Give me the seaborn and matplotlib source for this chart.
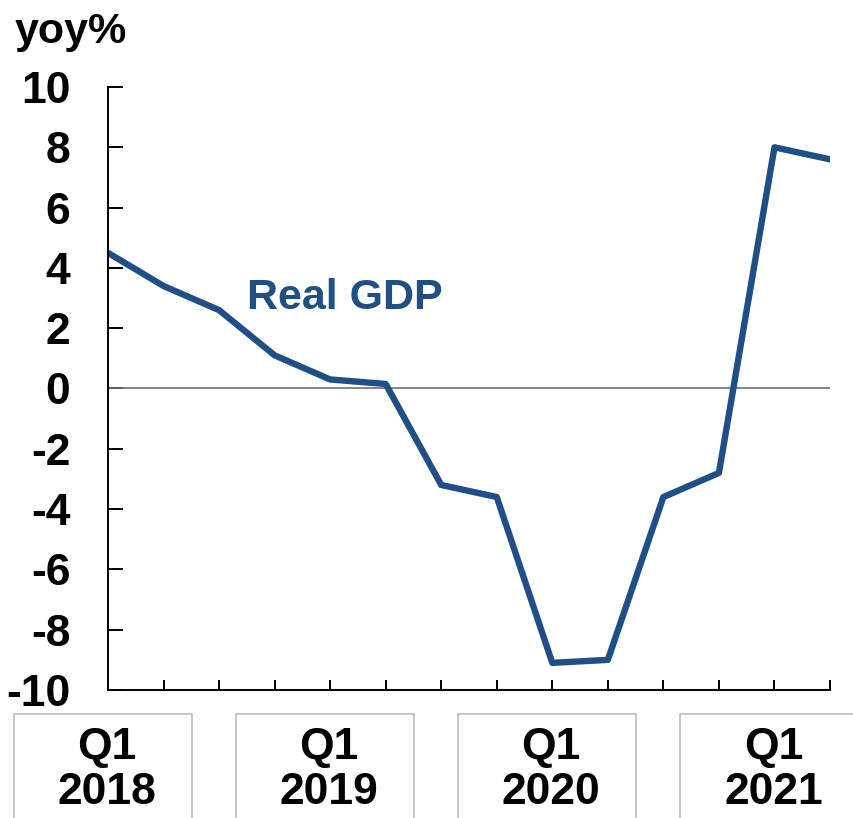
import numpy as np
import pandas as pd
import matplotlib
matplotlib.use("Agg")
import matplotlib.pyplot as plt
from matplotlib.patches import Rectangle
import seaborn as sns

# --- data (yoy %, quarterly) ---
quarters = ["2018Q1", "2018Q2", "2018Q3", "2018Q4",
            "2019Q1", "2019Q2", "2019Q3", "2019Q4",
            "2020Q1", "2020Q2", "2020Q3", "2020Q4",
            "2021Q1", "2021Q2"]
real_gdp = [4.5, 3.4, 2.6, 1.1, 0.3, 0.15, -3.2, -3.6,
            -9.1, -9.0, -3.6, -2.8, 8.0, 7.6]
label_idx = [0, 4, 8, 12]
label_text = ["Q1\n2018", "Q1\n2019", "Q1\n2020", "Q1\n2021"]
yticks = [-10, -8, -6, -4, -2, 0, 2, 4, 6, 8, 10]

LINE_COLOR = "#204f85"

sns.set_theme(style="white")
plt.rcParams["font.family"] = ["Liberation Sans", "DejaVu Sans"]
plt.rcParams["font.weight"] = "bold"
plt.rcParams["text.color"] = "black"
plt.rcParams["ytick.color"] = "black"
plt.rcParams["xtick.color"] = "black"

df = pd.DataFrame({"idx": np.arange(len(quarters)), "quarter": quarters, "gdp": real_gdp})

W, H = 854, 818
fig = plt.figure(figsize=(W / 100, H / 100), dpi=100)
ax = fig.add_axes([108 / W, 1 - 690 / H, (830 - 108) / W, (690 - 87) / H])

sns.lineplot(data=df, x="idx", y="gdp", ax=ax, color=LINE_COLOR, linewidth=4.6)
ax.axhline(0, color="#707070", linewidth=1.2, zorder=1)

ax.set_xlim(0, len(quarters) - 1)
ax.set_ylim(-10, 10)
ax.set_yticks(yticks)
ax.set_yticklabels([str(v) for v in yticks], fontsize=32, fontweight="bold", color="black")
ax.set_xticks(np.arange(1, len(quarters)))
ax.set_xticklabels([])
ax.set_xlabel("")
ax.set_ylabel("")

for s in ["top", "right"]:
    ax.spines[s].set_visible(False)
for s in ["left", "bottom"]:
    ax.spines[s].set_color("black")
    ax.spines[s].set_linewidth(1.4)
ax.tick_params(axis="y", direction="in", length=10.5, width=1.4, pad=27, left=True)
ax.tick_params(axis="x", direction="in", length=7, width=1.4, bottom=True)

# y-axis unit
fig.text(15 / W, 1 - 43 / H, "yoy%", fontsize=31, fontweight="bold", ha="left", va="baseline")

# series label
ax.text(2.5, 3.0, "Real GDP", color=LINE_COLOR, fontsize=31,
        fontweight="bold", ha="left", va="center")

# boxed year labels under the axis
for i, txt in zip(label_idx, label_text):
    xc = ax.transData.transform((i, 0))[0]
    rect = Rectangle(((xc - 94) / W, -0.02), 178 / W, (818 - 714) / H + 0.02,
                     transform=fig.transFigure, facecolor="none",
                     edgecolor="#bdbdbd", linewidth=1.2, clip_on=False)
    fig.add_artist(rect)
    fig.text((xc - 1) / W, 1 - 770 / H, txt, ha="center", va="center",
             fontsize=32, fontweight="bold", linespacing=1.12)

fig.savefig("out.png", dpi=100)
